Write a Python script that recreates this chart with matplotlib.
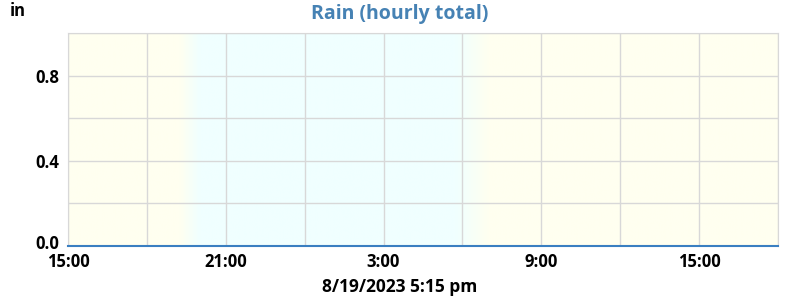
import numpy as np
import matplotlib.pyplot as plt
import matplotlib.dates as mdates
import matplotlib.transforms as mtransforms
from datetime import datetime, timedelta

plt.rcParams['font.family'] = ['Open Sans', 'DejaVu Sans']

start = datetime(2023, 8, 18, 15, 0)
end = datetime(2023, 8, 19, 18, 0)
times = [start + timedelta(hours=h) for h in range(28)]
rain = [0.0] * 28

# daylight transitions (sunset / sunrise fade)
sunset_start = datetime(2023, 8, 18, 19, 15)
sunset_end = datetime(2023, 8, 18, 20, 0)
sunrise_start = datetime(2023, 8, 19, 5, 45)
sunrise_end = datetime(2023, 8, 19, 7, 0)

day_col = np.array([255, 255, 240]) / 255.0
night_col = np.array([240, 255, 255]) / 255.0

fig = plt.figure(figsize=(8, 3), dpi=100)
ax = fig.add_axes([0.085, 0.18, 0.8875, 0.71])

x0 = mdates.date2num(start)
x1 = mdates.date2num(end)
xs = np.linspace(x0, x1, 2000)
ss0, ss1 = mdates.date2num(sunset_start), mdates.date2num(sunset_end)
sr0, sr1 = mdates.date2num(sunrise_start), mdates.date2num(sunrise_end)
night = np.interp(xs, [x0, ss0, ss1, sr0, sr1, x1], [0, 0, 1, 1, 0, 0])
img = day_col[None, :] * (1 - night[:, None]) + night_col[None, :] * night[:, None]
ax.imshow(img[None, :, :], extent=[x0, x1, 0, 1], aspect='auto', zorder=0)

ax.plot(times, rain, color='#3a7fc1', linewidth=1.5, zorder=3, clip_on=False)

ax.set_xlim(x0, x1)
ax.set_ylim(0, 1)
ticks = [start + timedelta(hours=h) for h in range(0, 28, 3)]
ax.set_xticks([mdates.date2num(t) for t in ticks])
ax.set_xticklabels([f"{t.hour}:00" if t.hour % 6 == 3 else '' for t in ticks])
ax.set_yticks(np.arange(0, 1.01, 0.2))
ax.set_yticklabels(['0.0', '', '0.4', '', '0.8', ''])

ax.grid(True, color='#d8d8d8', linewidth=1)
for sp in ['top', 'right', 'left']:
    ax.spines[sp].set_color('#d8d8d8')
ax.spines['bottom'].set_visible(False)
ax.tick_params(axis='x', length=0, labelsize=12, pad=5)
ax.tick_params(axis='y', length=0, labelsize=12, pad=6)
for lab in ax.get_xticklabels() + ax.get_yticklabels():
    lab.set_fontweight('bold')
# nudge the bottom y label up a little so it just touches the first x label
lab0 = ax.get_yticklabels()[0]
lab0.set_transform(lab0.get_transform() + mtransforms.ScaledTranslation(0, 3 / 72, fig.dpi_scale_trans))

fig.text(0.5, 0.955, 'Rain (hourly total)', color='#4682b4', fontweight='bold',
         fontsize=14, ha='center', va='center')
fig.text(0.5, 0.043, '8/19/2023 5:15 pm', fontweight='bold', fontsize=12.5,
         ha='center', va='center')
fig.text(0.012, 0.945, 'in', fontweight='bold', fontsize=12)

plt.savefig('out.png', dpi=100)
